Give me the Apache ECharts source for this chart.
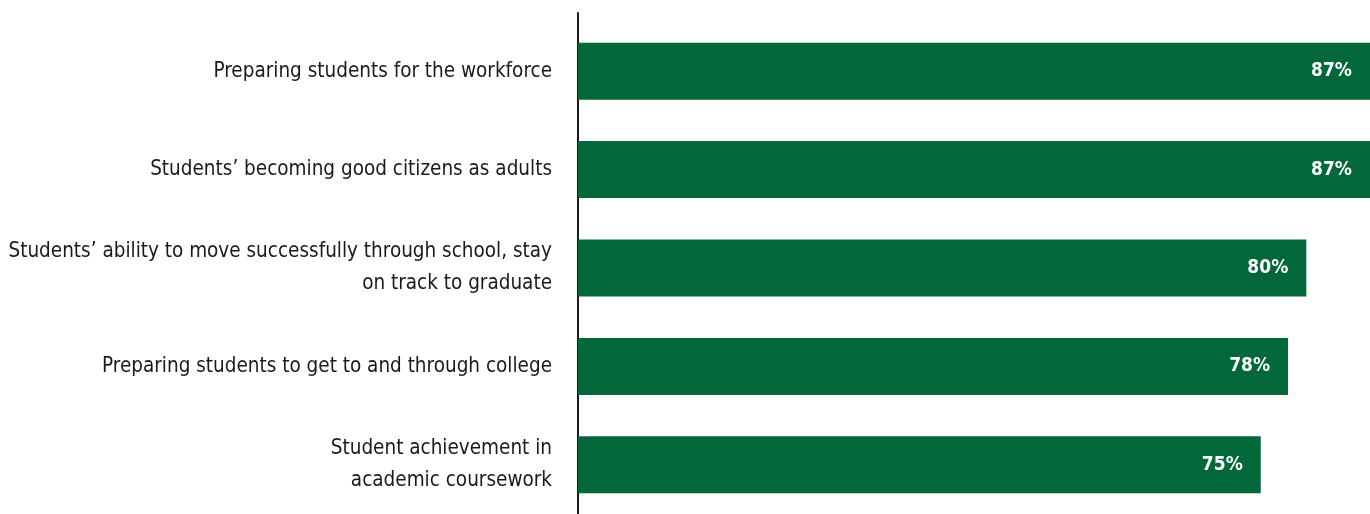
<!DOCTYPE html>
<html>
<head>
<meta charset="utf-8">
<script src="https://cdn.jsdelivr.net/npm/echarts@6/dist/echarts.min.js"></script>
<style>
  html, body { margin: 0; padding: 0; background: #fff; }
  #chart { width: 1370px; height: 514px; }
</style>
</head>
<body>
<div id="chart"></div>
<script>
// data
const categories = [
  "Preparing students for the workforce",
  "Students\u2019 becoming good citizens as adults",
  "Students\u2019 ability to move successfully through school, stay\non track to graduate",
  "Preparing students to get to and through college",
  "Student achievement in\nacademic coursework",
];
const values = [87, 87, 80, 78, 75];

const FONT = "'DejaVu Sans Condensed', 'Liberation Sans Narrow', sans-serif";
const GREEN = "#02683a";

const chart = echarts.init(document.getElementById("chart"));

chart.setOption({
  animation: false,
  grid: [
    { left: 578, right: 0, top: 22, bottom: 0, outerBoundsMode: "none", containLabel: false },
    // only used to draw the vertical axis line a bit higher
    { left: 578, right: 0, top: 13, bottom: 0, outerBoundsMode: "none", containLabel: false },
  ],
  xAxis: [
    { type: "value", gridIndex: 0, min: 0, max: 87, show: false },
    { type: "value", gridIndex: 1, min: 0, max: 1, show: false },
  ],
  yAxis: [
    {
      type: "category",
      gridIndex: 0,
      data: categories,
      inverse: true,
      axisLine: { show: false },
      axisTick: { show: false },
      axisLabel: {
        margin: 26,
        color: "#1a1a1a",
        fontFamily: FONT,
        fontSize: 20.5,
        lineHeight: 32,
        padding: [7, 0, 0, 0],
        align: "right",
      },
    },
    {
      type: "value",
      gridIndex: 1,
      min: 0,
      max: 1,
      axisLine: { show: true, lineStyle: { color: "#1a1a1a", width: 2 } },
      axisTick: { show: false },
      axisLabel: { show: false },
      splitLine: { show: false },
    },
  ],
  series: [
    {
      type: "bar",
      data: values,
      barWidth: 57,
      itemStyle: { color: GREEN },
      label: {
        show: true,
        position: "insideRight",
        distance: 18,
        formatter: "{c}%",
        color: "#fff",
        fontFamily: FONT,
        fontWeight: "bold",
        fontSize: 19,
        padding: [3, 0, 0, 0],
      },
    },
  ],
});
</script>
</body>
</html>
